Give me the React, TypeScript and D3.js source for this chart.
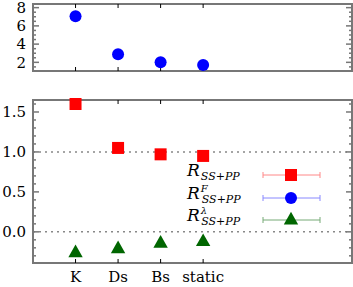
import React from 'react';
import * as d3 from 'd3';

const categories = ['K', 'Ds', 'Bs', 'static'];
const rValues = [1.6, 1.05, 0.97, 0.95];
const rErr = [0.01, 0.01, 0.01, 0.01];
const fValues = [7.05, 2.9, 2.0, 1.7];
const lambdaValues = [-0.25, -0.2, -0.13, -0.11];
const lambdaErr = [0.04, 0.02, 0.01, 0.01];
const topTicks = [2, 4, 6, 8];
const bottomTicks = [0.0, 0.5, 1.0, 1.5];

const W = 353;
const H = 287;
const left = 33;
const right = 352;
const axisColor = '#777';
const font = 'DejaVu Serif';

const App = () => {
  const x = d3.scaleLinear().domain([0, 7.5]).range([left, right]);
  const yTop = d3.scaleLinear().domain([1.05, 8.4]).range([71, 4]);
  const yBot = d3.scaleLinear().domain([-0.39, 1.65]).range([263, 100]);

  const xTicks = (y0: number, y1: number) =>
    categories.map((c, i) => (
      <g key={c}>
        <line x1={x(i + 1)} x2={x(i + 1)} y1={y1} y2={y1 - 4} stroke="#000" strokeWidth={1} />
        <line x1={x(i + 1)} x2={x(i + 1)} y1={y0} y2={y0 + 4} stroke="#000" strokeWidth={1} />
      </g>
    ));

  const yMinor = (scale: d3.ScaleLinear<number, number>, step: number, major: number[]) => {
    const [a, b] = scale.domain();
    const out: number[] = [];
    for (let v = Math.ceil(a / step) * step; v <= b + 1e-9; v += step) out.push(+v.toFixed(4));
    return out.map((v, i) => {
      const isMajor = major.some(m => Math.abs(m - v) < 1e-6);
      const len = isMajor ? 6 : 3;
      return (
        <g key={i}>
          <line x1={left} x2={left + len} y1={scale(v)} y2={scale(v)} stroke={axisColor} strokeWidth={1.5} />
          <line x1={right} x2={right - len} y1={scale(v)} y2={scale(v)} stroke={axisColor} strokeWidth={1.5} />
        </g>
      );
    });
  };

  const tri = (cx: number, cy: number, s: number) =>
    `M${cx},${cy - s * 0.6} L${cx + s * 0.6},${cy + s * 0.45} L${cx - s * 0.6},${cy + s * 0.45} Z`;

  const legendRows = [
    { y: 175, color: '#f00', bar: '#f88', sup: '', shape: 'sq' },
    { y: 198, color: '#00f', bar: '#88f', sup: 'F', shape: 'ci' },
    { y: 220, color: '#060', bar: '#7a7', sup: 'λ', shape: 'tr' },
  ];

  return (
    <svg width={W} height={H} style={{ position: 'absolute', left: 0, top: 0 }}>
      {/* top panel */}
      <rect x={left} y={4} width={right - left} height={67} fill="none" stroke={axisColor} strokeWidth={2} />
      {yMinor(yTop, 0.5, topTicks)}
      {xTicks(4, 71)}
      {topTicks.map(t => (
        <text key={t} x={26} y={yTop(t)} dy="0.35em" textAnchor="end" fontSize={15} fontFamily={font}>{t}</text>
      ))}
      {fValues.map((v, i) => (
        <circle key={i} cx={x(i + 1)} cy={yTop(v)} r={6} fill="#00f" />
      ))}

      {/* bottom panel */}
      <line x1={left} x2={right} y1={yBot(1)} y2={yBot(1)} stroke="#888" strokeWidth={1.5} strokeDasharray="2,4" />
      <line x1={left} x2={right} y1={yBot(0)} y2={yBot(0)} stroke="#888" strokeWidth={1.5} strokeDasharray="2,4" />
      <rect x={left} y={100} width={right - left} height={163} fill="none" stroke={axisColor} strokeWidth={2} />
      {yMinor(yBot, 0.1, bottomTicks)}
      {xTicks(100, 263)}
      {bottomTicks.map(t => (
        <text key={t} x={26} y={yBot(t)} dy="0.35em" textAnchor="end" fontSize={15} fontFamily={font}>{t.toFixed(1)}</text>
      ))}
      {categories.map((c, i) => (
        <text key={c} x={x(i + 1)} y={282} textAnchor="middle" fontSize={15} fontFamily={font}>{c}</text>
      ))}

      {rValues.map((v, i) => (
        <g key={i}>
          <line x1={x(i + 1)} x2={x(i + 1)} y1={yBot(v - rErr[i])} y2={yBot(v + rErr[i])} stroke="#f88" />
          <rect x={x(i + 1) - 6} y={yBot(v) - 6} width={12} height={12} fill="#f00" />
        </g>
      ))}
      {lambdaValues.map((v, i) => (
        <g key={i}>
          <line x1={x(i + 1)} x2={x(i + 1)} y1={yBot(v - lambdaErr[i])} y2={yBot(v + lambdaErr[i])} stroke="#7a7" />
          <path d={tri(x(i + 1), yBot(v), 12)} fill="#060" />
        </g>
      ))}

      {/* legend */}
      {legendRows.map((r, i) => (
        <g key={i}>
          <text x={187} y={r.y + 1} fontSize={17} fontStyle="italic" fontFamily={font}>
            R
            {r.sup && <tspan fontSize={10} dx={1} dy={-7}>{r.sup}</tspan>}
            <tspan fontSize={11} dx={r.sup ? -6 : 1} dy={r.sup ? 11 : 4}>SS+PP</tspan>
          </text>
          <line x1={263} x2={320} y1={r.y} y2={r.y} stroke={r.bar} strokeWidth={1} />
          <line x1={263} x2={263} y1={r.y - 3} y2={r.y + 3} stroke={r.bar} />
          <line x1={320} x2={320} y1={r.y - 3} y2={r.y + 3} stroke={r.bar} />
          {r.shape === 'sq' && <rect x={285} y={r.y - 6} width={12} height={12} fill={r.color} />}
          {r.shape === 'ci' && <circle cx={291} cy={r.y} r={6} fill={r.color} />}
          {r.shape === 'tr' && <path d={tri(291, r.y - 1, 12)} fill={r.color} />}
        </g>
      ))}
    </svg>
  );
};

export default App;
